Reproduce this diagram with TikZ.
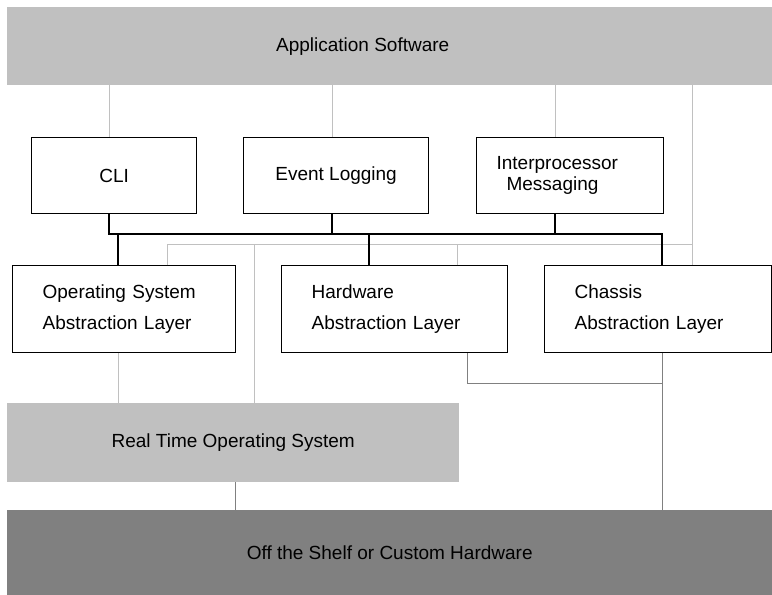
\documentclass[tikz,border=0pt]{standalone}
\usepackage{fontspec}
\setmainfont{Liberation Sans}
\usetikzlibrary{positioning, calc}
\definecolor{lightgrey}{HTML}{C0C0C0}
\definecolor{midgrey}{HTML}{808080}

\begin{document}
\begin{tikzpicture}[x=1pt, y=-1pt, font=\fontsize{19}{23}\selectfont,
    layer/.style={fill=lightgrey, inner sep=0pt, anchor=north west, minimum height=78pt},
    module/.style={draw, line width=1.2pt, fill=white, inner sep=0pt, anchor=north west, minimum height=76pt},
    absbox/.style={module, minimum height=87pt, inner xsep=30pt, align=left, font=\fontsize{19}{31}\selectfont},
    softline/.style={draw=lightgrey, line width=1pt},
    busline/.style={draw=black, line width=1.2pt},
    hwline/.style={draw=midgrey, line width=1pt}]
    \useasboundingbox (0,0) rectangle (772,595);

    % layers
    \node[layer, minimum width=765pt] (app) at (7,7) {Application Software\hspace*{54pt}};
    \node[layer, minimum width=452pt, minimum height=79pt] (rtos) at (7,403) {Real Time Operating System};
    \node[layer, fill=midgrey, minimum width=765pt, minimum height=85pt] (hw) at (7,510) {Off the Shelf or Custom Hardware};

    % services
    \node[module, minimum width=165pt] (cli) at (31,137) {CLI};
    \node[module, minimum width=185pt] (evt) at (243,137) {Event Logging};
    \node[module, minimum width=187pt, inner xsep=20pt, text width=147pt, align=left,
          font=\fontsize{19}{21}\selectfont] (ipm) at (476,137) {Interprocessor\\\hspace*{10pt}Messaging};

    % abstraction layers
    \node[absbox, text width=163pt] (osal) at (12,265) {Operating System\\Abstraction Layer};
    \node[absbox, text width=166pt] (hal) at (281,265) {Hardware\\Abstraction Layer};
    \node[absbox, text width=167pt] (cal) at (544,265) {Chassis\\Abstraction Layer};

    % application links
    \draw[softline] (109,0 |- app.south) -- (109,0 |- cli.north);
    \draw[softline] (332,0 |- app.south) -- (332,0 |- evt.north);
    \draw[softline] (555,0 |- app.south) -- (555,0 |- ipm.north);
    \draw[softline] (692,0 |- app.south) -- (692,0 |- cal.north);
    \draw[softline] (167,0 |- osal.north) |- (692,244);
    \draw[softline] (457,0 |- hal.north) -- (457,244);
    \draw[softline] (254,244) -- (254,0 |- rtos.north);
    \draw[softline] (118,0 |- osal.south) -- (118,0 |- rtos.north);

    % service bus
    \draw[busline] (109,0 |- cli.south) |- (662,234) -- (662,0 |- cal.north);
    \draw[busline] (332,0 |- evt.south) -- (332,234);
    \draw[busline] (555,0 |- ipm.south) -- (555,234);
    \draw[busline] (118,234) -- (118,0 |- osal.north);
    \draw[busline] (369,234) -- (369,0 |- hal.north);

    % hardware links
    \draw[hwline] (467,0 |- hal.south) |- (662,383);
    \draw[hwline] (662,0 |- cal.south) -- (662,0 |- hw.north);
    \draw[hwline] (235,0 |- rtos.south) -- (235,0 |- hw.north);
\end{tikzpicture}
\end{document}
